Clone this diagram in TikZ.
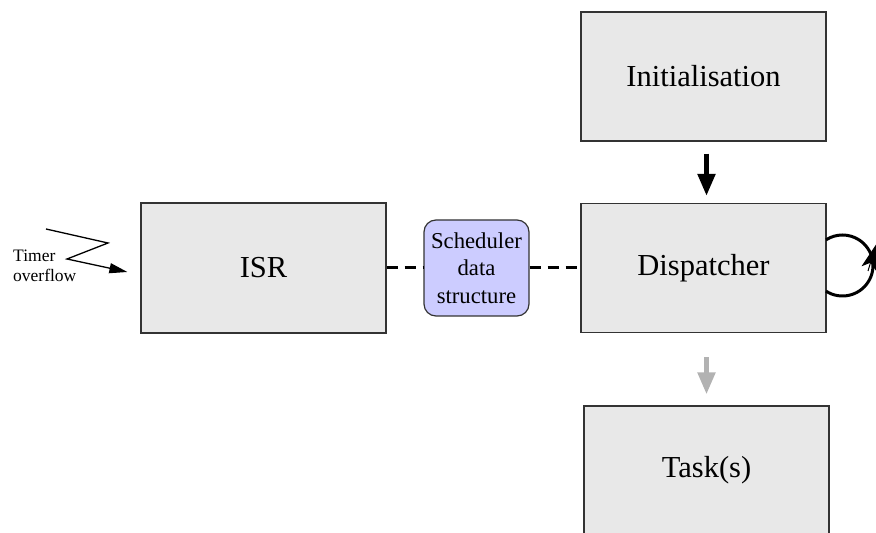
\documentclass[tikz,border=0pt]{standalone}
\usepackage{fontspec}
\setmainfont{Liberation Serif}
\usetikzlibrary{arrows.meta}
\definecolor{boxfill}{RGB}{232,232,232}
\definecolor{boxline}{RGB}{51,51,51}
\definecolor{schedfill}{RGB}{204,204,255}
\definecolor{arrowgray}{RGB}{178,178,178}
\begin{document}
\begin{tikzpicture}[x=1pt,y=1pt,
  block/.style={draw=boxline, fill=boxfill, line width=1.2pt, minimum width=245pt, minimum height=129pt, inner sep=0pt, font=\fontsize{30.5}{36}\selectfont},
  schedbox/.style={draw=boxline, fill=schedfill, line width=1.2pt, rounded corners=12pt, minimum width=105pt, minimum height=96pt, inner sep=0pt, align=center, font=\fontsize{22.7}{27.5}\selectfont},
  dashconn/.style={line width=3pt, dash pattern=on 11pt off 7pt},
  flow/.style={line width=5pt, -{Triangle[length=22pt,width=17pt]}},
  bolt/.style={line width=1.3pt, -{Triangle[length=18pt,width=10pt]}},
  loopline/.style={line width=3pt},
]
\useasboundingbox (0,0) rectangle (876,533);
\clip (0,0) rectangle (876,533);
\node[block] (init) at (703.5,456.5) {Initialisation};
\node[block] (disp) at (703.5,265) {Dispatcher};
\node[block, minimum height=130pt] (isr) at (263.5,265) {ISR};
\node[block] (task) at (706.5,62.5) {Task(s)};
\node[schedbox] (sched) at (476.5,265) {Scheduler\\data\\structure};
% dashed links
\draw[dashconn] (isr.east) -- (sched.west);
\draw[dashconn] (sched.east) -- (disp.west);
% flow arrows
\draw[flow] ([xshift=3pt]init.south) ++(0,-12) -- ([xshift=3pt,yshift=7pt]disp.north);
\draw[flow, draw=arrowgray, fill=arrowgray] ([xshift=3pt,yshift=-24pt]disp.south) -- ([yshift=11pt]task.north);
% timer input
\node[font=\fontsize{17.5}{20}\selectfont, align=left, anchor=west, inner sep=0pt] (timer) at (13,267.3) {Timer\\overflow};
\coordinate (z0) at (46,304);
\coordinate (z1) at (108,290);
\coordinate (z2) at (67,274);
\draw[bolt] (z0) -- (z1) -- (z2) -- ([shift={(-13pt,-4pt)}]isr.west);
% loop on dispatcher
\coordinate (lc) at (842.5,267.5);
\draw[loopline] ([shift={(-122.8:30.5)}]lc) arc[start angle=-122.8, end angle=122.8, radius=30.5];
\coordinate (la) at (868,262);
\coordinate (lt) at (876,288.5);
\draw[line width=1pt, -{Stealth[length=25pt,width=15pt,inset=6pt]}] (la) -- (lt);
\end{tikzpicture}
\end{document}
